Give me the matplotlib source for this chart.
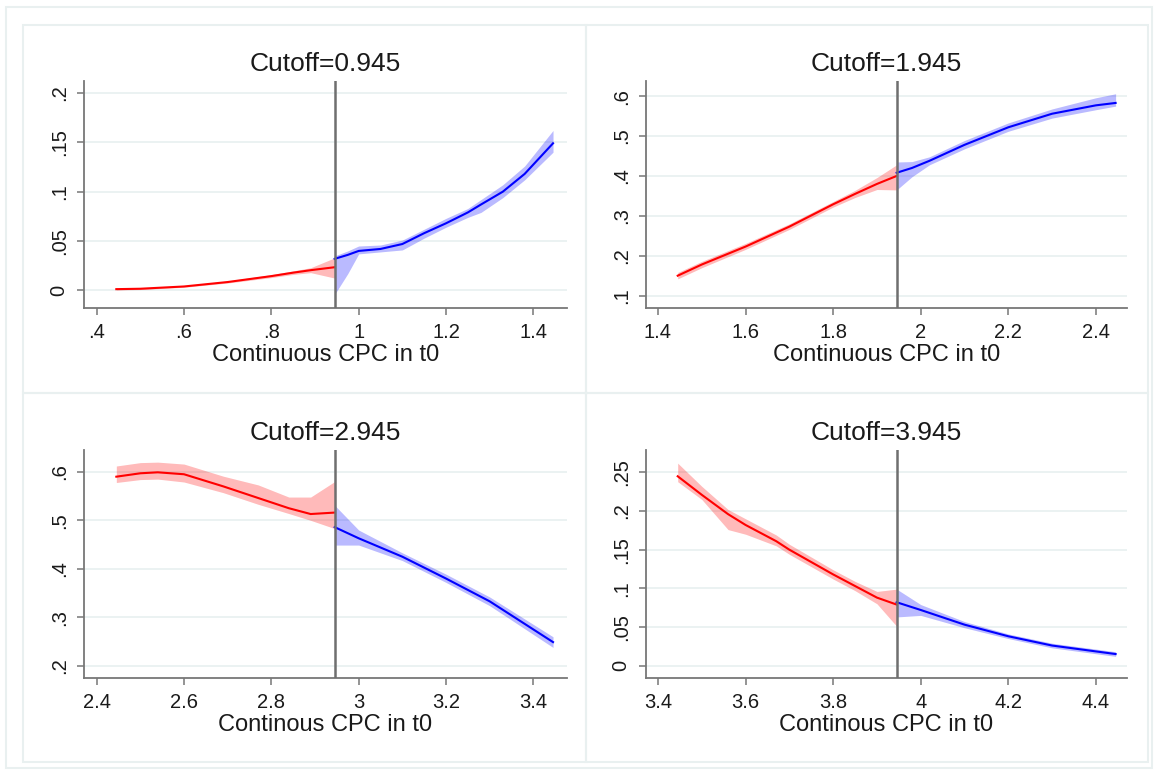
import matplotlib.pyplot as plt
from matplotlib.patches import Rectangle
import numpy as np

plt.rcParams['font.family'] = ['Liberation Sans', 'DejaVu Sans']

# Umbrales y etiquetas de cada panel
cutoffs = [0.945, 1.945, 2.945, 3.945]
xlabels = ["Continuous CPC in t0", "Continuous CPC in t0",
           "Continous CPC in t0", "Continous CPC in t0"]

# Panel 1 (Cutoff=0.945)
p1_xl = [0.445, 0.5, 0.6, 0.7, 0.8, 0.85, 0.89, 0.945]
p1_yl = [0.0013, 0.0017, 0.0040, 0.0085, 0.0145, 0.018, 0.0205, 0.0235]
p1_ll = [0.0005, 0.0009, 0.0032, 0.0075, 0.0130, 0.0162, 0.0180, 0.0125]
p1_hl = [0.0021, 0.0025, 0.0048, 0.0095, 0.0160, 0.0198, 0.0230, 0.0330]
p1_xr = [0.945, 0.975, 1.0, 1.05, 1.1, 1.15, 1.2, 1.25, 1.28, 1.33, 1.38, 1.445]
p1_yr = [0.032, 0.036, 0.040, 0.042, 0.047, 0.058, 0.068, 0.079, 0.087, 0.100, 0.118, 0.149]
p1_lr = [-0.004, 0.017, 0.037, 0.039, 0.041, 0.053, 0.064, 0.074, 0.079, 0.094, 0.112, 0.140]
p1_hr = [0.035, 0.040, 0.045, 0.046, 0.051, 0.062, 0.073, 0.083, 0.092, 0.107, 0.126, 0.162]

# Panel 2 (Cutoff=1.945)
p2_xl = [1.445, 1.5, 1.6, 1.7, 1.8, 1.85, 1.9, 1.945]
p2_yl = [0.150, 0.178, 0.223, 0.273, 0.329, 0.355, 0.380, 0.400]
p2_ll = [0.142, 0.170, 0.216, 0.266, 0.322, 0.346, 0.366, 0.365]
p2_hl = [0.158, 0.186, 0.231, 0.280, 0.336, 0.364, 0.396, 0.428]
p2_xr = [1.945, 1.98, 2.02, 2.1, 2.2, 2.3, 2.4, 2.445]
p2_yr = [0.408, 0.420, 0.438, 0.478, 0.522, 0.556, 0.577, 0.583]
p2_lr = [0.365, 0.398, 0.428, 0.468, 0.512, 0.545, 0.566, 0.575]
p2_hr = [0.435, 0.436, 0.448, 0.489, 0.533, 0.568, 0.596, 0.606]

# Panel 3 (Cutoff=2.945)
p3_xl = [2.445, 2.5, 2.54, 2.6, 2.69, 2.77, 2.84, 2.89, 2.945]
p3_yl = [0.590, 0.597, 0.599, 0.595, 0.570, 0.546, 0.525, 0.513, 0.516]
p3_ll = [0.578, 0.584, 0.585, 0.579, 0.557, 0.533, 0.514, 0.500, 0.483]
p3_hl = [0.612, 0.619, 0.620, 0.616, 0.591, 0.573, 0.548, 0.548, 0.580]
p3_xr = [2.945, 3.0, 3.1, 3.2, 3.3, 3.445]
p3_yr = [0.486, 0.463, 0.425, 0.380, 0.333, 0.249]
p3_lr = [0.449, 0.449, 0.417, 0.372, 0.324, 0.238]
p3_hr = [0.531, 0.480, 0.433, 0.389, 0.342, 0.260]

# Panel 4 (Cutoff=3.945)
p4_xl = [3.445, 3.5, 3.56, 3.6, 3.67, 3.7, 3.8, 3.85, 3.9, 3.945]
p4_yl = [0.245, 0.221, 0.196, 0.182, 0.161, 0.150, 0.118, 0.103, 0.088, 0.079]
p4_ll = [0.238, 0.215, 0.176, 0.170, 0.155, 0.144, 0.112, 0.097, 0.080, 0.051]
p4_hl = [0.262, 0.232, 0.202, 0.190, 0.169, 0.157, 0.124, 0.109, 0.096, 0.099]
p4_xr = [3.945, 4.0, 4.1, 4.2, 4.3, 4.445]
p4_yr = [0.082, 0.072, 0.053, 0.038, 0.026, 0.015]
p4_lr = [0.063, 0.065, 0.049, 0.035, 0.023, 0.012]
p4_hr = [0.099, 0.079, 0.057, 0.041, 0.029, 0.018]

# Ticks (formato Stata sin cero inicial)
p1_xt = [0.4, 0.6, 0.8, 1.0, 1.2, 1.4]
p1_xtl = [".4", ".6", ".8", "1", "1.2", "1.4"]
p1_yt = [0, 0.05, 0.1, 0.15, 0.2]
p1_ytl = ["0", ".05", ".1", ".15", ".2"]
p2_xt = [1.4, 1.6, 1.8, 2.0, 2.2, 2.4]
p2_xtl = ["1.4", "1.6", "1.8", "2", "2.2", "2.4"]
p2_yt = [0.1, 0.2, 0.3, 0.4, 0.5, 0.6]
p2_ytl = [".1", ".2", ".3", ".4", ".5", ".6"]
p3_xt = [2.4, 2.6, 2.8, 3.0, 3.2, 3.4]
p3_xtl = ["2.4", "2.6", "2.8", "3", "3.2", "3.4"]
p3_yt = [0.2, 0.3, 0.4, 0.5, 0.6]
p3_ytl = [".2", ".3", ".4", ".5", ".6"]
p4_xt = [3.4, 3.6, 3.8, 4.0, 4.2, 4.4]
p4_xtl = ["3.4", "3.6", "3.8", "4", "4.2", "4.4"]
p4_yt = [0, 0.05, 0.1, 0.15, 0.2, 0.25]
p4_ytl = ["0", ".05", ".1", ".15", ".2", ".25"]

W, H = 1158, 774

def rect(l, r, t, b):
    return [l / W, 1 - b / H, (r - l) / W, (b - t) / H]

panels = [
    dict(rect=rect(84, 567, 81, 308), xlim=(0.371, 1.477), ylim=(-0.0178, 0.2121),
         left=(p1_xl, p1_yl, p1_ll, p1_hl), right=(p1_xr, p1_yr, p1_lr, p1_hr),
         xt=p1_xt, xtl=p1_xtl, yt=p1_yt, ytl=p1_ytl),
    dict(rect=rect(646, 1127, 81, 308), xlim=(1.3726, 2.471), ylim=(0.069, 0.638),
         left=(p2_xl, p2_yl, p2_ll, p2_hl), right=(p2_xr, p2_yr, p2_lr, p2_hr),
         xt=p2_xt, xtl=p2_xtl, yt=p2_yt, ytl=p2_ytl),
    dict(rect=rect(84, 567, 450, 678), xlim=(2.371, 3.477), ylim=(0.175, 0.645),
         left=(p3_xl, p3_yl, p3_ll, p3_hl), right=(p3_xr, p3_yr, p3_lr, p3_hr),
         xt=p3_xt, xtl=p3_xtl, yt=p3_yt, ytl=p3_ytl),
    dict(rect=rect(646, 1127, 450, 678), xlim=(3.3726, 4.471), ylim=(-0.016, 0.279),
         left=(p4_xl, p4_yl, p4_ll, p4_hl), right=(p4_xr, p4_yr, p4_lr, p4_hr),
         xt=p4_xt, xtl=p4_xtl, yt=p4_yt, ytl=p4_ytl),
]

fig = plt.figure(figsize=(W / 100, H / 100), dpi=100)
fig.patch.set_facecolor("white")

# Marcos de los paneles (graph combine)
border = "#e9f0f0"
fig.add_artist(Rectangle((6 / W, 1 - 768 / H), 1146 / W, 761 / H, transform=fig.transFigure,
                         fill=False, edgecolor=border, lw=1.5))
for (l, t, r, b) in [(23, 25, 586, 393), (586, 25, 1148, 393),
                     (23, 393, 586, 762), (586, 393, 1148, 762)]:
    fig.add_artist(Rectangle((l / W, 1 - b / H), (r - l) / W, (b - t) / H,
                             transform=fig.transFigure, fill=False,
                             edgecolor=border, lw=1.5))

txt = "#1a1a1a"
for i, p in enumerate(panels):
    ax = fig.add_axes(p["rect"])
    ax.set_facecolor("none")
    xl, yl, ll, hl = p["left"]
    xr, yr, lr, hr = p["right"]
    ax.fill_between(xl, ll, hl, color="red", alpha=0.27, lw=0, zorder=2)
    ax.fill_between(xr, lr, hr, color="blue", alpha=0.27, lw=0, zorder=2)
    ax.plot(xl, yl, color="red", lw=1.5, zorder=3)
    ax.plot(xr, yr, color="blue", lw=1.5, zorder=3)
    ax.axvline(cutoffs[i], color="#6f6f6f", lw=1.8, zorder=4)

    ax.set_xlim(p["xlim"])
    ax.set_ylim(p["ylim"])
    ax.set_xticks(p["xt"])
    ax.set_xticklabels(p["xtl"])
    ax.set_yticks(p["yt"])
    ax.set_yticklabels(p["ytl"], rotation=90, va="center")
    for y in p["yt"]:
        ax.axhline(y, color="#e8f0f0", lw=1.2, zorder=1)

    for s in ["top", "right"]:
        ax.spines[s].set_visible(False)
    for s in ["left", "bottom"]:
        ax.spines[s].set_color("#777777")
        ax.spines[s].set_linewidth(1.3)
    ax.tick_params(axis="both", length=5, width=1.1, color="#777777",
                   labelsize=14.5, labelcolor=txt)
    ax.tick_params(axis="x", pad=6)
    ax.tick_params(axis="y", pad=6)

    ax.set_title(f"Cutoff={cutoffs[i]:.3f}", fontsize=19, color=txt, pad=7)
    ax.set_xlabel(xlabels[i], fontsize=17, color=txt, labelpad=1)

fig.savefig("out.png", dpi=100, facecolor="white")
